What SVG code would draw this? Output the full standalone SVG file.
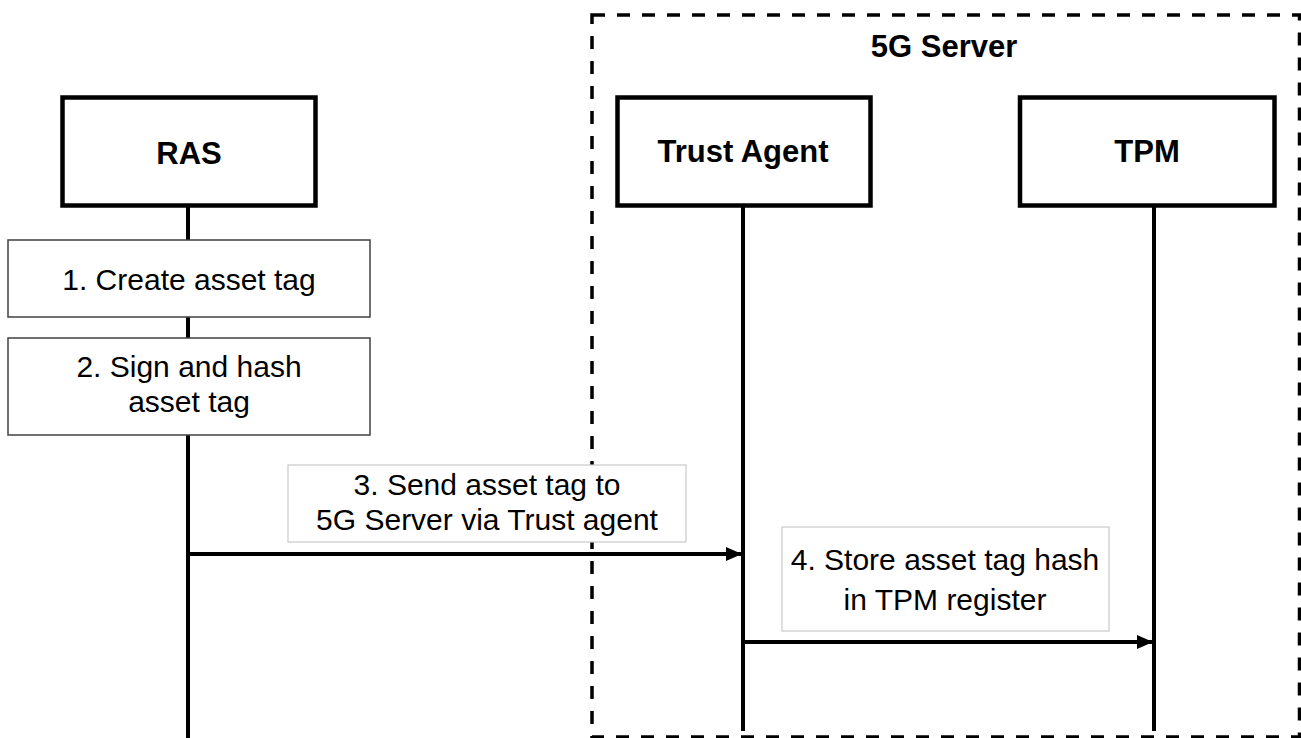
<svg xmlns="http://www.w3.org/2000/svg" width="1301" height="738" viewBox="0 0 1301 738">
  <style>
    .actor { fill: #ffffff; stroke: #000000; stroke-width: 4.5; }
    .step { fill: #ffffff; stroke: #404040; stroke-width: 1.5; }
    .note { fill: #ffffff; stroke: #c8c8c8; stroke-width: 1.2; }
    .life { stroke: #000000; stroke-width: 4; fill: none; }
    .msg { stroke: #000000; stroke-width: 4; fill: none; }
    .title { font-family: "Liberation Sans", Arial, sans-serif; font-weight: bold; font-size: 31px; fill: #000000; text-anchor: middle; }
    .label { font-family: "Liberation Sans", Arial, sans-serif; font-size: 30px; fill: #000000; text-anchor: middle; }
  </style>
  <defs>
    <marker id="arrow" viewBox="0 0 16 14" refX="16" refY="7" markerWidth="16" markerHeight="14" markerUnits="userSpaceOnUse" orient="auto">
      <path d="M0,0 L16,7 L0,14 Z" fill="#000000"/>
    </marker>
  </defs>
  <rect width="1301" height="738" fill="#ffffff"/>

  <!-- 5G Server boundary -->
  <g id="server-boundary">
    <rect x="592" y="15" width="707.5" height="722" fill="none" stroke="#000000" stroke-width="3.5" stroke-dasharray="13 12"/>
    <text class="title" x="944" y="57" font-size="33">5G Server</text>
  </g>

  <!-- Lifelines -->
  <g id="lifelines">
    <line class="life" x1="188" y1="206" x2="188" y2="738"/>
    <line class="life" x1="743" y1="206" x2="743" y2="731"/>
    <line class="life" x1="1154" y1="206" x2="1154" y2="731"/>
  </g>

  <!-- Actors -->
  <g id="ras">
    <rect class="actor" x="62.5" y="97.5" width="253" height="108"/>
    <text class="title" x="189" y="164">RAS</text>
  </g>
  <g id="trust-agent">
    <rect class="actor" x="617.5" y="97.5" width="253" height="108"/>
    <text class="title" x="743" y="162">Trust Agent</text>
  </g>
  <g id="tpm">
    <rect class="actor" x="1020" y="97.5" width="254.5" height="108"/>
    <text class="title" x="1147" y="162">TPM</text>
  </g>

  <!-- RAS local steps -->
  <g id="step1">
    <rect class="step" x="8" y="240" width="362" height="77"/>
    <text class="label" x="189" y="290">1. Create asset tag</text>
  </g>
  <g id="step2">
    <rect class="step" x="8" y="338" width="362" height="97"/>
    <text class="label" x="189" y="377">2. Sign and hash</text>
    <text class="label" x="189" y="412">asset tag</text>
  </g>

  <!-- Message labels -->
  <g id="step3">
    <rect class="note" x="288" y="465" width="398" height="77"/>
    <text class="label" x="487" y="495">3. Send asset tag to</text>
    <text class="label" x="487" y="530">5G Server via Trust agent</text>
  </g>
  <g id="step4">
    <rect class="note" x="782" y="527" width="327" height="104"/>
    <text class="label" x="945" y="570">4. Store asset tag hash</text>
    <text class="label" x="945" y="610">in TPM register</text>
  </g>

  <!-- Connectors -->
  <g id="connectors">
    <line class="msg" x1="188" y1="554" x2="742" y2="554" marker-end="url(#arrow)"/>
    <line class="msg" x1="743" y1="642" x2="1153" y2="642" marker-end="url(#arrow)"/>
  </g>
</svg>
